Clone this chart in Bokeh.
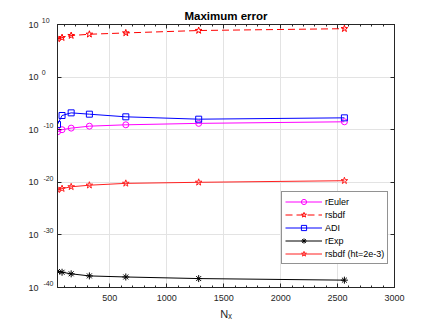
from bokeh.plotting import figure
from bokeh.models import (Range1d, FixedTicker, CustomJSTickFormatter, LinearAxis,
                          LogAxis, Legend, LegendItem)
from bokeh.embed import file_html
from bokeh.resources import INLINE

# ---- data ----
Nx = [40, 80, 160, 320, 640, 1280, 2560]
r_euler = [4.0e-11, 1.0e-10, 2.0e-10, 4.7e-10, 8.5e-10, 1.6e-9, 3.2e-9]
rsbdf = [1.9e7, 3.2e7, 7.9e7, 1.4e8, 2.5e8, 7.2e8, 1.6e9]
adi = [1.0e-9, 5.0e-8, 1.6e-7, 8.9e-8, 2.8e-8, 1.0e-8, 1.8e-8]
r_exp = [1.1e-37, 7.9e-38, 4.0e-38, 1.6e-38, 1.0e-38, 5.0e-39, 2.5e-39]
rsbdf_ht = [4.0e-22, 6.3e-22, 1.4e-21, 2.8e-21, 6.3e-21, 1.0e-20, 2.0e-20]

x_ticks = [500, 1000, 1500, 2000, 2500, 3000]
x_minor = list(range(100, 3001, 100))
y_ticks = [1e-40, 1e-30, 1e-20, 1e-10, 1e0, 1e10]

TITLE = "Maximum error"
FONT = "Liberation Sans"
AX = "#262626"

p = figure(frame_width=337, frame_height=263, output_backend="svg",
           toolbar_location=None, y_axis_type="log", title=None,
           x_range=Range1d(40, 3000), y_range=Range1d(1e-40, 1e10),
           min_border_left=57, min_border_right=42, min_border_top=24,
           min_border_bottom=40)
p.background_fill_color = "white"
p.border_fill_color = "white"
p.outline_line_color = AX


def style_axis(ax, labels=True):
    ax.axis_line_color = AX
    ax.major_tick_in = 4
    ax.major_tick_out = 0
    ax.minor_tick_in = 2
    ax.minor_tick_out = 0
    ax.major_tick_line_color = AX
    ax.minor_tick_line_color = AX
    ax.major_label_text_font = FONT
    ax.major_label_text_font_size = "9px"
    ax.major_label_text_color = AX
    if not labels:
        ax.formatter = CustomJSTickFormatter(code="return ''")
        ax.major_label_standoff = 0
        ax.major_label_text_font_size = "0px"

xt = FixedTicker(ticks=x_ticks, minor_ticks=x_minor)
yt = FixedTicker(ticks=y_ticks)

xa = p.xaxis[0]
xa.ticker = xt
style_axis(xa)
xa.major_label_standoff = 7
xa.axis_label = "N\u2093"
xa.axis_label_text_font = FONT
xa.axis_label_text_font_size = "11px"
xa.axis_label_text_font_style = "normal"
xa.axis_label_text_color = AX
xa.axis_label_standoff = 4

# left axis next to the frame: the raised exponents of 10^n
ya = p.yaxis[0]
ya.ticker = yt
style_axis(ya)
ya.minor_tick_line_color = None
ya.major_label_standoff = 4
ya.major_label_text_font_size = "7px"
ya.formatter = CustomJSTickFormatter(code="""
let s = String(Math.round(Math.log10(tick)));
while (s.length < 3) { s += '\\u2007'; }
return s + '\\n';
""")

# outer left axis: the base "10" of each label
ya_base = LogAxis(ticker=yt)
style_axis(ya_base)
ya_base.axis_line_color = None
ya_base.major_tick_line_color = None
ya_base.minor_tick_line_color = None
ya_base.major_tick_in = 0
ya_base.major_label_standoff = 0
ya_base.formatter = CustomJSTickFormatter(code="return '10'")
p.add_layout(ya_base, "left")

# top axis: box ticks, and the chart title as its label
top = LinearAxis(ticker=xt)
style_axis(top, labels=False)
top.axis_label = TITLE
top.axis_label_text_font = FONT
top.axis_label_text_font_size = "11.5px"
top.axis_label_text_font_style = "bold"
top.axis_label_text_color = "#000000"
top.axis_label_standoff = 3
p.add_layout(top, "above")

right = LogAxis(ticker=yt)
style_axis(right, labels=False)
right.minor_tick_line_color = None
p.add_layout(right, "right")

p.xgrid.ticker = xt
p.ygrid.ticker = yt
p.xgrid.grid_line_color = "#e3e3e3"
p.ygrid.grid_line_color = "#e3e3e3"

items = []
def series(y, color, marker, label, dash="solid", size=6):
    l = p.line(Nx, y, line_color=color, line_width=1, line_dash=dash)
    s = p.scatter(Nx, y, marker=marker, size=size, line_color=color,
                  fill_color=None, line_width=1)
    items.append(LegendItem(label=label, renderers=[l, s]))

series(r_euler, "#ff00ff", "circle", "rEuler")
series(rsbdf, "#ff0000", "star", "rsbdf", dash="7 4", size=7)
series(adi, "#0000ff", "square", "ADI")
series(r_exp, "#000000", "asterisk", "rExp", size=7)
series(rsbdf_ht, "#ff2020", "star", "rsbdf (ht=2e-3)", size=7)

leg = Legend(items=items, location=(224, 23))
leg.label_text_font = FONT
leg.label_text_font_size = "9px"
leg.label_text_color = "#000000"
leg.glyph_width = 37
leg.glyph_height = 13
leg.label_height = 13
leg.label_standoff = 3
leg.spacing = 0
leg.padding = 3
leg.margin = 0
leg.border_line_color = AX
leg.border_line_width = 1
leg.background_fill_color = "white"
leg.background_fill_alpha = 1
p.add_layout(leg, "center")

open("out.html", "w").write(file_html(p, INLINE))
